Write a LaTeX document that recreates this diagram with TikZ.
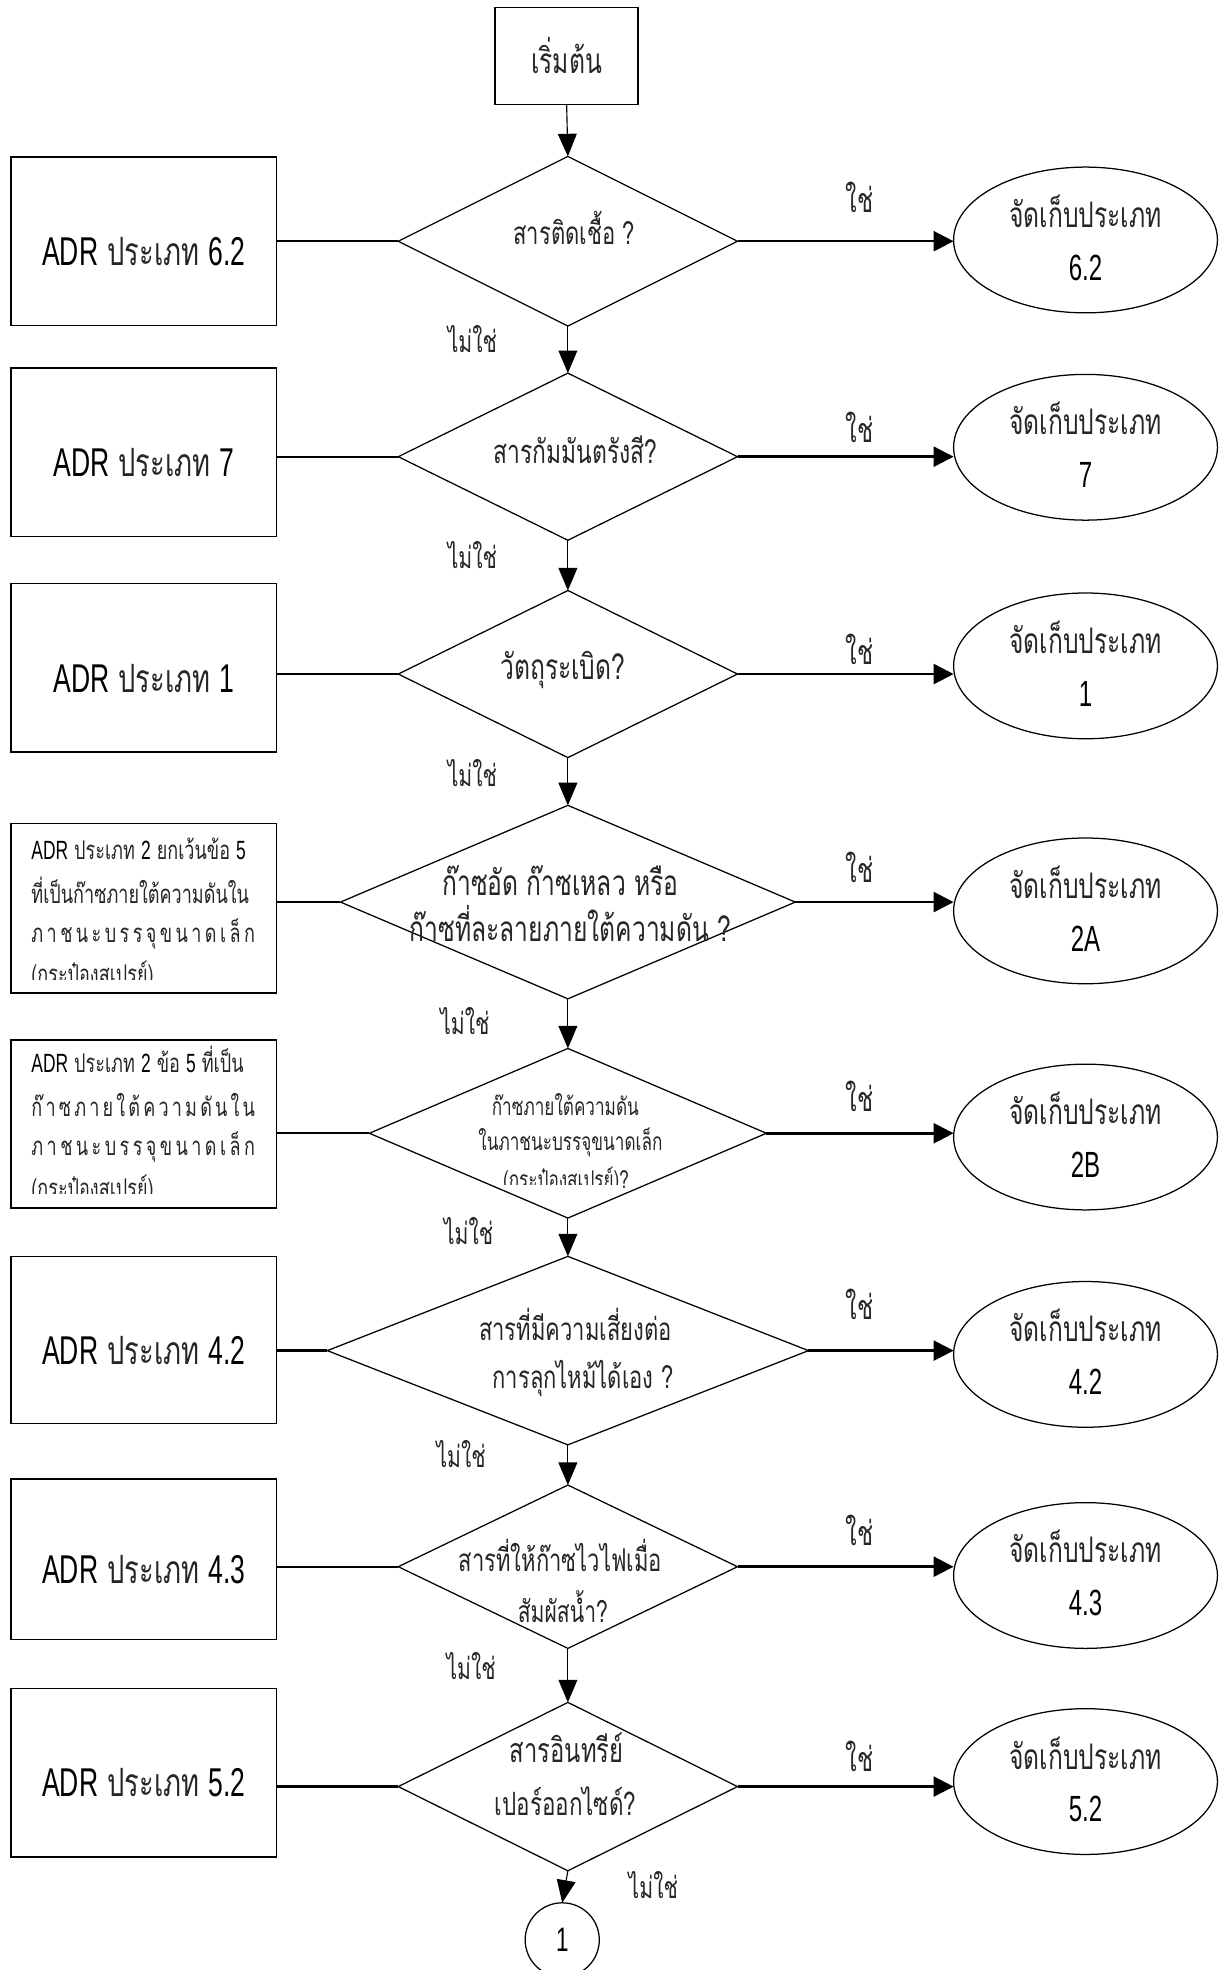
\documentclass[tikz,border=0pt]{standalone}
\usepackage{fontspec}
\usetikzlibrary{shapes.geometric,arrows.meta}
\newfontfamily\thai[Script=Thai,FakeStretch=0.7]{Loma}
\newfontfamily\latf[FakeStretch=0.66]{Liberation Sans}
\colorlet{ink}{black!85}
\newcommand\tfont[1]{\thai\fontsize{#1}{#1}\selectfont}
% Latin words and numbers in a given size
\newcommand\lt[2]{{\latf\fontsize{#1}{#1}\selectfont\color{black}#2}}
% a line spread over the text width of the small boxes
\newcommand\spreadline[1]{\hbox to 178pt{#1}}

\begin{document}
\begin{tikzpicture}[x=1pt,y=-1pt,
  every node/.style={inner sep=0pt, outer sep=0pt, text=ink},
  startbox/.style={draw=black, line width=1.2pt, minimum width=114pt, minimum height=77pt, font=\tfont{28}},
  adrbox/.style={draw=black, line width=1.4pt, minimum width=211pt, minimum height=134pt},
  dia/.style={draw=black, diamond, line width=1pt},
  store/.style={draw=black, ellipse, line width=1pt, minimum width=210pt, minimum height=116pt},
  conn/.style={draw=black, circle, line width=1pt, minimum size=59pt},
  txt/.style={anchor=base, font=\tfont{#1}},
  txt/.default=26,
  big/.style={anchor=base, font=\tfont{31}},
  small/.style={anchor=base west, font=\tfont{20.5}},
  tiny/.style={anchor=base, font=\tfont{19.5}},
  lbl/.style={font=\tfont{27}},
  nolbl/.style={font=\tfont{24}},
  down/.style={line width=0.9pt, -{Triangle[length=18pt,width=15pt]}},
  yes/.style={line width=2pt, -{Triangle[length=16pt,width=16pt]}},
  link/.style={line width=1.8pt}
]
\useasboundingbox (0,0) rectangle (973,1568);

% start
\node[startbox] (start) at (451,44.5) {เริ่มต้น};

% decisions
\node[dia, minimum width=270pt, minimum height=135pt] (d1) at (452,192) {};
\node[dia, minimum width=270pt, minimum height=133pt] (d2) at (452,363.5) {};
\node[dia, minimum width=270pt, minimum height=133pt] (d3) at (452,536.5) {};
\node[dia, minimum width=362pt, minimum height=154pt] (d4) at (452,718) {};
\node[dia, minimum width=316pt, minimum height=135pt] (d5) at (452,902) {};
\node[dia, minimum width=383pt, minimum height=150pt] (d6) at (452,1075) {};
\node[dia, minimum width=270pt, minimum height=130pt] (d7) at (452,1247) {};
\node[dia, minimum width=270pt, minimum height=134pt] (d8) at (452,1422) {};

% class boxes on the left
\node[adrbox] (b1) at (114.5,192) {};
\node[adrbox] (b2) at (114.5,360) {};
\node[adrbox] (b3) at (114.5,531.5) {};
\node[adrbox, minimum height=135pt] (b4) at (114.5,723) {};
\node[adrbox] (b5) at (114.5,894.5) {};
\node[adrbox, minimum height=133pt] (b6) at (114.5,1066.5) {};
\node[adrbox, minimum height=128pt] (b7) at (114.5,1241) {};
\node[adrbox] (b8) at (114.5,1411) {};

% storage classes on the right
\node[store] (e1) at (864,191) {};
\node[store] (e2) at (864,356) {};
\node[store] (e3) at (864,530) {};
\node[store] (e4) at (864,725) {};
\node[store] (e5) at (864,905) {};
\node[store] (e6) at (864,1078) {};
\node[store] (e7) at (864,1254) {};
\node[store] (e8) at (864,1418) {};

% off-page connector
\node[conn] (c1) at (447.5,1544) {\lt{27}{1}};

% decision texts
\node[txt=25] (t1) at (457,195) {สารติดเชื้อ ?};
\node[txt=26] (t2) at (458,369) {สารกัมมันตรังสี?};
\node[txt=28] (t3) at (448,541) {วัตถุระเบิด?};
\node[txt=28] (t4a) at (446,713) {ก๊าซอัด ก๊าซเหลว หรือ};
\node[txt=28] (t4b) at (454,749) {ก๊าซที่ละลายภายใต้ความดัน ?};
\node[tiny] (t5a) at (450,888) {ก๊าซภายใต้ความดัน};
\node[tiny] (t5b) at (454,916) {ในภาชนะบรรจุขนาดเล็ก};
\begin{scope}
  \clip (300,920) rectangle (600,942.5);
  \node[tiny, anchor=base east] (t5c) at (493,946) {(กระป๋องสเปรย์)};
\end{scope}
\node[tiny, anchor=base west] (t5q) at (t5c.base east) {?};
\node[txt=25] (t6a) at (458,1067) {สารที่มีความเสี่ยงต่อ};
\node[txt=25] (t6b) at (464,1105) {การลุกไหม้ได้เอง ?};
\node[txt=25] (t7a) at (446,1251) {สารที่ให้ก๊าซไวไฟเมื่อ};
\node[txt=24] (t7b) at (448,1291) {สัมผัสน้ำ?};
\node[txt=27] (t8a) at (451,1403) {สารอินทรีย์};
\node[txt=25.5] (t8b) at (450,1445) {เปอร์ออกไซด์?};

% box texts
\node[big] (a1) at (114.5,211) {\lt{32}{ADR} ประเภท \lt{32}{6.2}};
\node[big] (a2) at (114.5,379) {\lt{32}{ADR} ประเภท \lt{32}{7}};
\node[big] (a3) at (114.5,551) {\lt{32}{ADR} ประเภท \lt{32}{1}};
\node[small] (a4a) at (25,684) {\lt{21}{ADR} ประเภท \lt{21}{2} ยกเว้นข้อ \lt{21}{5}};
\node[small] (a4b) at (25,719) {ที่เป็นก๊าซภายใต้ความดันใน};
\node[small] (a4c) at (25,750) {\spreadline{ภ\hfill า\hfill ช\hfill น\hfill ะ\hfill บ\hfill ร\hfill ร\hfill จุ\hfill ข\hfill น\hfill า\hfill ด\hfill เ\hfill ล็\hfill ก}};
\begin{scope}
  \clip (12,760) rectangle (217,780);
  \node[small] (a4d) at (25,783) {(กระป๋องสเปรย์)};
\end{scope}
\node[small] (a5a) at (25,853.5) {\lt{21}{ADR} ประเภท \lt{21}{2} ข้อ \lt{21}{5} ที่เป็น};
\node[small] (a5b) at (25,889) {\spreadline{ก๊\hfill า\hfill ซ\hfill ภ\hfill า\hfill ย\hfill ใ\hfill ต้\hfill ค\hfill ว\hfill า\hfill ม\hfill ดั\hfill น\hfill ใ\hfill น}};
\node[small] (a5c) at (25,920) {\spreadline{ภ\hfill า\hfill ช\hfill น\hfill ะ\hfill บ\hfill ร\hfill ร\hfill จุ\hfill ข\hfill น\hfill า\hfill ด\hfill เ\hfill ล็\hfill ก}};
\begin{scope}
  \clip (12,930) rectangle (217,950);
  \node[small] (a5d) at (25,953) {(กระป๋องสเปรย์)};
\end{scope}
\node[big] (a6) at (114.5,1086) {\lt{32}{ADR} ประเภท \lt{32}{4.2}};
\node[big] (a7) at (114.5,1260) {\lt{32}{ADR} ประเภท \lt{32}{4.3}};
\node[big] (a8) at (114.5,1430) {\lt{32}{ADR} ประเภท \lt{32}{5.2}};

% storage texts
\foreach \e/\c in {e1/6.2, e2/7, e3/1, e4/2A, e5/2B, e6/4.2, e7/4.3, e8/5.2}{
  \node[txt=28] (\e-top) at ([yshift=10pt]\e.center) {จัดเก็บประเภท};
  \node[anchor=base] (\e-num) at ([yshift=-32pt]\e.center) {\lt{29}{\c}};
}

% yes / no labels
\foreach \n/\y in {y1/157, y2/340, y3/517, y4/690, y5/873, y6/1038, y7/1218, y8/1398}{
  \node[lbl] (\n) at (684,\y) {ใช่};
}
\node[nolbl] (n1) at (376,270) {ไม่ใช่};
\node[nolbl] (n2) at (376,442) {ไม่ใช่};
\node[nolbl] (n3) at (376,615) {ไม่ใช่};
\node[nolbl] (n4) at (370,813) {ไม่ใช่};
\node[nolbl] (n5) at (373,980) {ไม่ใช่};
\node[nolbl] (n6) at (367,1157) {ไม่ใช่};
\node[nolbl] (n7) at (375,1326) {ไม่ใช่};
\node[nolbl] (n8) at (520,1500) {ไม่ใช่};

% main flow
\draw[down] (start.south) -- (d1.north);
\draw[down] (d1.south) -- (d2.north);
\draw[down] (d2.south) -- (d3.north);
\draw[down] (d3.south) -- (d4.north);
\draw[down] (d4.south) -- (d5.north);
\draw[down] (d5.south) -- (d6.north);
\draw[down] (d6.south) -- (d7.north);
\draw[down] (d7.south) -- (d8.north);
\draw[down] (d8.south) -- (c1.north);

% yes branches and class links
\foreach \i in {1,...,8}{
  \draw[yes] (d\i.east) -- (d\i.east -| e\i.west);
  \draw[link] (d\i.west -| b\i.east) -- (d\i.west);
}
\end{tikzpicture}
\end{document}
